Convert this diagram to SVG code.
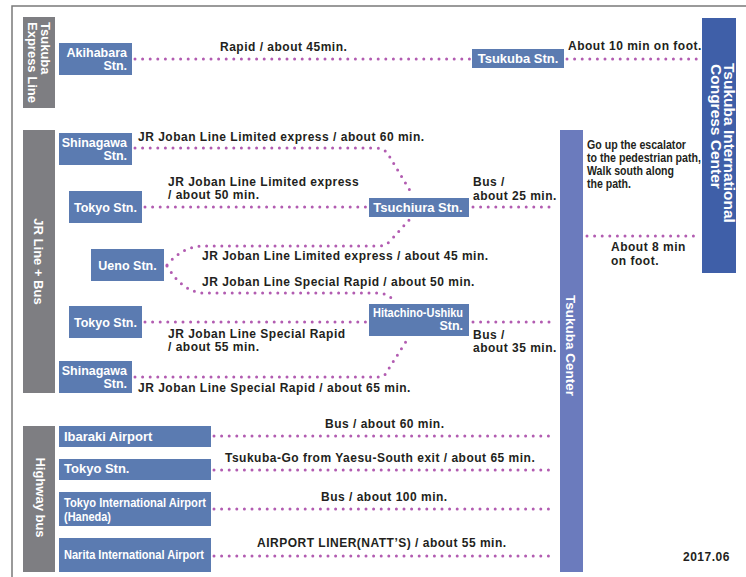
<svg xmlns="http://www.w3.org/2000/svg" width="746" height="577" viewBox="0 0 746 577">
<style>
.frame{stroke:#7a7a7a;stroke-width:1.5;fill:none}
.side{fill:#7e7e82}
.node{fill:#5b7bb1}
.cc{fill:#3f5fa8}
.tc{fill:#6b7bbd}
.nt{font-family:"Liberation Sans",Arial,sans-serif;font-weight:bold;font-size:12.5px;fill:#fff}
.st{font-family:"Liberation Sans",Arial,sans-serif;font-weight:bold;font-size:13px;fill:#fff}
.lbl{font-family:"Liberation Sans",Arial,sans-serif;font-weight:bold;font-size:12px;fill:#231f20;letter-spacing:0.5px}
.note{font-family:"Liberation Sans",Arial,sans-serif;font-weight:bold;font-size:12px;fill:#231f20}
.dot{fill:none;stroke:#b25cb1;stroke-width:3;stroke-linecap:round;stroke-dasharray:0 7.6}
</style>
<rect width="746" height="577" fill="#fff"/>
<path class="frame" d="M746 6H12V577"/>

<g id="side-tx">
<rect class="side" x="23" y="17" width="32" height="91"/>
<text class="st" transform="translate(41,22) rotate(90)">Tsukuba</text>
<text class="st" transform="translate(28,22) rotate(90)">Express Line</text>
</g>
<g id="side-jr">
<rect class="side" x="23" y="130" width="32" height="263"/>
<text class="st" text-anchor="middle" transform="translate(34,261.5) rotate(90)">JR Line + Bus</text>
</g>
<g id="side-hw">
<rect class="side" x="23" y="426" width="32" height="146"/>
<text class="st" text-anchor="middle" transform="translate(35.5,497.5) rotate(90)">Highway bus</text>
</g>

<g id="connectors">
<path class="dot" d="M135 59H470"/>
<path class="dot" d="M567 59H699"/>
<path class="dot" d="M587 236H699"/>
<path class="dot" d="M135 148H376Q384 148 388 154L412 194"/>
<path class="dot" d="M145 207H366"/>
<path class="dot" d="M167 265Q182 247 202 246H378Q386 246 391 240L410 219"/>
<path class="dot" d="M167 266Q182 291 202 293H378Q388 293 395 302"/>
<path class="dot" d="M145 322H366"/>
<path class="dot" d="M135 377H379Q384 377 386 373L407 340"/>
<path class="dot" d="M473 207H556"/>
<path class="dot" d="M473 322H556"/>
<path class="dot" d="M214 436H553"/>
<path class="dot" d="M214 470H553"/>
<path class="dot" d="M214 509H553"/>
<path class="dot" d="M214 556H553"/>
</g>

<g id="labels">
<text class="lbl" x="220" y="51">Rapid / about 45min.</text>
<text class="lbl" x="568" y="50">About 10 min on foot.</text>
<text class="lbl" x="611" y="251">About 8 min</text>
<text class="lbl" x="611" y="265">on foot.</text>
<text class="note" x="587" y="149" textLength="99" lengthAdjust="spacingAndGlyphs">Go up the escalator</text>
<text class="note" x="587" y="162" textLength="114" lengthAdjust="spacingAndGlyphs">to the pedestrian path,</text>
<text class="note" x="587" y="175" textLength="87" lengthAdjust="spacingAndGlyphs">Walk south along</text>
<text class="note" x="587" y="188" textLength="44" lengthAdjust="spacingAndGlyphs">the path.</text>
<text class="lbl" x="138" y="141">JR Joban Line Limited express / about 60 min.</text>
<text class="lbl" x="168" y="186">JR Joban Line Limited express</text>
<text class="lbl" x="168" y="199">/ about 50 min.</text>
<text class="lbl" x="202" y="260">JR Joban Line Limited express / about 45 min.</text>
<text class="lbl" x="202" y="286">JR Joban Line Special Rapid / about 50 min.</text>
<text class="lbl" x="168" y="338">JR Joban Line Special Rapid</text>
<text class="lbl" x="168" y="350.5">/ about 55 min.</text>
<text class="lbl" x="138" y="392">JR Joban Line Special Rapid / about 65 min.</text>
<text class="lbl" x="473" y="186">Bus /</text>
<text class="lbl" x="473" y="199.5">about 25 min.</text>
<text class="lbl" x="473" y="339">Bus /</text>
<text class="lbl" x="473" y="352">about 35 min.</text>
<text class="lbl" x="325" y="428">Bus / about 60 min.</text>
<text class="lbl" x="225" y="461.5">Tsukuba-Go from Yaesu-South exit / about 65 min.</text>
<text class="lbl" x="321" y="501">Bus / about 100 min.</text>
<text class="lbl" x="257" y="547">AIRPORT LINER(NATT’S) / about 55 min.</text>
<text class="lbl" x="683" y="561">2017.06</text>
</g>

<g id="akihabara">
<rect class="node" x="59" y="43" width="73" height="32"/>
<text class="nt" x="127" y="57" text-anchor="end">Akihabara</text>
<text class="nt" x="127" y="69.5" text-anchor="end">Stn.</text>
</g>
<g id="tsukuba-stn">
<rect class="node" x="472" y="49" width="92" height="19"/>
<text class="st" x="518" y="62.5" text-anchor="middle">Tsukuba Stn.</text>
</g>
<g id="congress-center">
<rect class="cc" x="702" y="18" width="34" height="255"/>
<text class="st" style="font-size:15.5px" transform="translate(723.5,63) rotate(90)">Tsukuba International</text>
<text class="st" style="font-size:15.5px" transform="translate(710.5,64) rotate(90)">Congress Center</text>
</g>
<g id="tsukuba-center">
<rect class="tc" x="560" y="130" width="23" height="442"/>
<text class="st" style="font-size:13.5px" transform="translate(565.5,295) rotate(90)">Tsukuba Center</text>
</g>
<g id="shinagawa1">
<rect class="node" x="59" y="133" width="73" height="32"/>
<text class="nt" x="127" y="147" text-anchor="end">Shinagawa</text>
<text class="nt" x="127" y="159.5" text-anchor="end">Stn.</text>
</g>
<g id="tokyo1">
<rect class="node" x="69" y="191" width="73" height="32"/>
<text class="nt" x="105.5" y="211.5" text-anchor="middle">Tokyo Stn.</text>
</g>
<g id="ueno">
<rect class="node" x="91" y="249" width="73" height="32"/>
<text class="nt" x="127.5" y="269.5" text-anchor="middle">Ueno Stn.</text>
</g>
<g id="tokyo2">
<rect class="node" x="69" y="306" width="73" height="32"/>
<text class="nt" x="105.5" y="326.5" text-anchor="middle">Tokyo Stn.</text>
</g>
<g id="shinagawa2">
<rect class="node" x="59" y="361" width="73" height="32"/>
<text class="nt" x="127" y="375" text-anchor="end">Shinagawa</text>
<text class="nt" x="127" y="387.5" text-anchor="end">Stn.</text>
</g>
<g id="tsuchiura">
<rect class="node" x="369" y="198" width="100" height="19"/>
<text class="st" x="418" y="212" text-anchor="middle">Tsuchiura Stn.</text>
</g>
<g id="hitachino-ushiku">
<rect class="node" x="369" y="304" width="100" height="32"/>
<text class="nt" x="463" y="317" text-anchor="end" textLength="90" lengthAdjust="spacingAndGlyphs">Hitachino-Ushiku</text>
<text class="nt" x="463" y="330" text-anchor="end">Stn.</text>
</g>
<g id="ibaraki">
<rect class="node" x="59" y="426" width="152" height="21"/>
<text class="st" x="64" y="441">Ibaraki Airport</text>
</g>
<g id="tokyo-hw">
<rect class="node" x="59" y="459" width="152" height="21"/>
<text class="st" x="64" y="473">Tokyo Stn.</text>
</g>
<g id="haneda">
<rect class="node" x="59" y="492" width="152" height="34"/>
<text class="st" style="font-size:12px" x="64" y="507" textLength="142" lengthAdjust="spacingAndGlyphs">Tokyo International Airport</text>
<text class="st" style="font-size:12px" x="64" y="520.5" textLength="47" lengthAdjust="spacingAndGlyphs">(Haneda)</text>
</g>
<g id="narita">
<rect class="node" x="59" y="538" width="152" height="34"/>
<text class="st" x="64" y="558.5" textLength="140" lengthAdjust="spacingAndGlyphs">Narita International Airport</text>
</g>
</svg>
